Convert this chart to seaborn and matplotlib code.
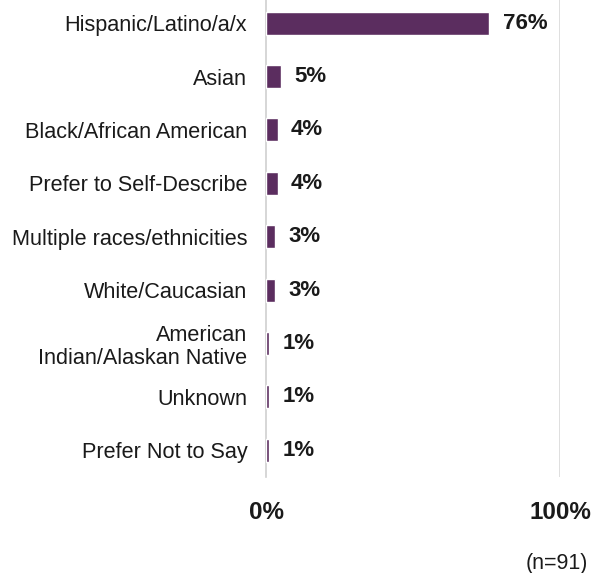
import matplotlib
matplotlib.use("Agg")
import matplotlib.pyplot as plt
import seaborn as sns
import pandas as pd

categories = ["Hispanic/Latino/a/x", "Asian", "Black/African American",
              "Prefer to Self-Describe", "Multiple races/ethnicities",
              "White/Caucasian", "American\nIndian/Alaskan Native",
              "Unknown", "Prefer Not to Say"]
values = [76, 5, 4, 4, 3, 3, 1, 1, 1]
value_labels = ["76%", "5%", "4%", "4%", "3%", "3%", "1%", "1%", "1%"]
x_ticks = [0, 100]
x_tick_labels = ["0%", "100%"]
note = "(n=91)"

sns.set_theme(style="white")
plt.rcParams['font.family'] = ['Liberation Sans', 'DejaVu Sans']

df = pd.DataFrame({"category": categories, "value": values})

fig = plt.figure(figsize=(5.97, 5.73), dpi=100)
W, H = 597, 573
ax = fig.add_axes([266 / W, 1 - 477 / H, (560 - 266) / W, (477 + 3.5) / H])

sns.barplot(data=df, x="value", y="category", orient="h", color="#5b2d5f",
            width=0.43, saturation=1, ax=ax, zorder=3)

ax.set_xlim(0, 100)
ax.set_ylim(len(categories) - 0.5, -0.5)
ax.set_xlabel("")
ax.set_ylabel("")

for s in ["top", "bottom", "right"]:
    ax.spines[s].set_visible(False)
ax.spines["left"].set_color("#d0d0d0")
ax.spines["left"].set_linewidth(1.2)
ax.axvline(100, color="#d9d9d9", lw=1.2, zorder=1)

ax.set_xticks(x_ticks)
ax.set_xticklabels(x_tick_labels, fontsize=17.5, fontweight="bold", color="#1a1a1a")
ax.tick_params(axis="x", length=0, pad=17)
ax.tick_params(axis="y", length=0, pad=13.5)
for lab in ax.get_yticklabels():
    lab.set_fontsize(15.6)
    lab.set_color("#1a1a1a")
    lab.set_horizontalalignment("right")
    lab.set_multialignment("right")
    lab.set_linespacing(1.15)

for i, (v, t) in enumerate(zip(values, value_labels)):
    ax.text(v + 4.5, i, t, ha="left", va="center", fontsize=16,
            fontweight="bold", color="#1a1a1a")

fig.text(588 / W, 1 - 563 / H, note, ha="right", va="center", fontsize=15.5,
         color="#1a1a1a")

fig.savefig("out.png", dpi=100)
